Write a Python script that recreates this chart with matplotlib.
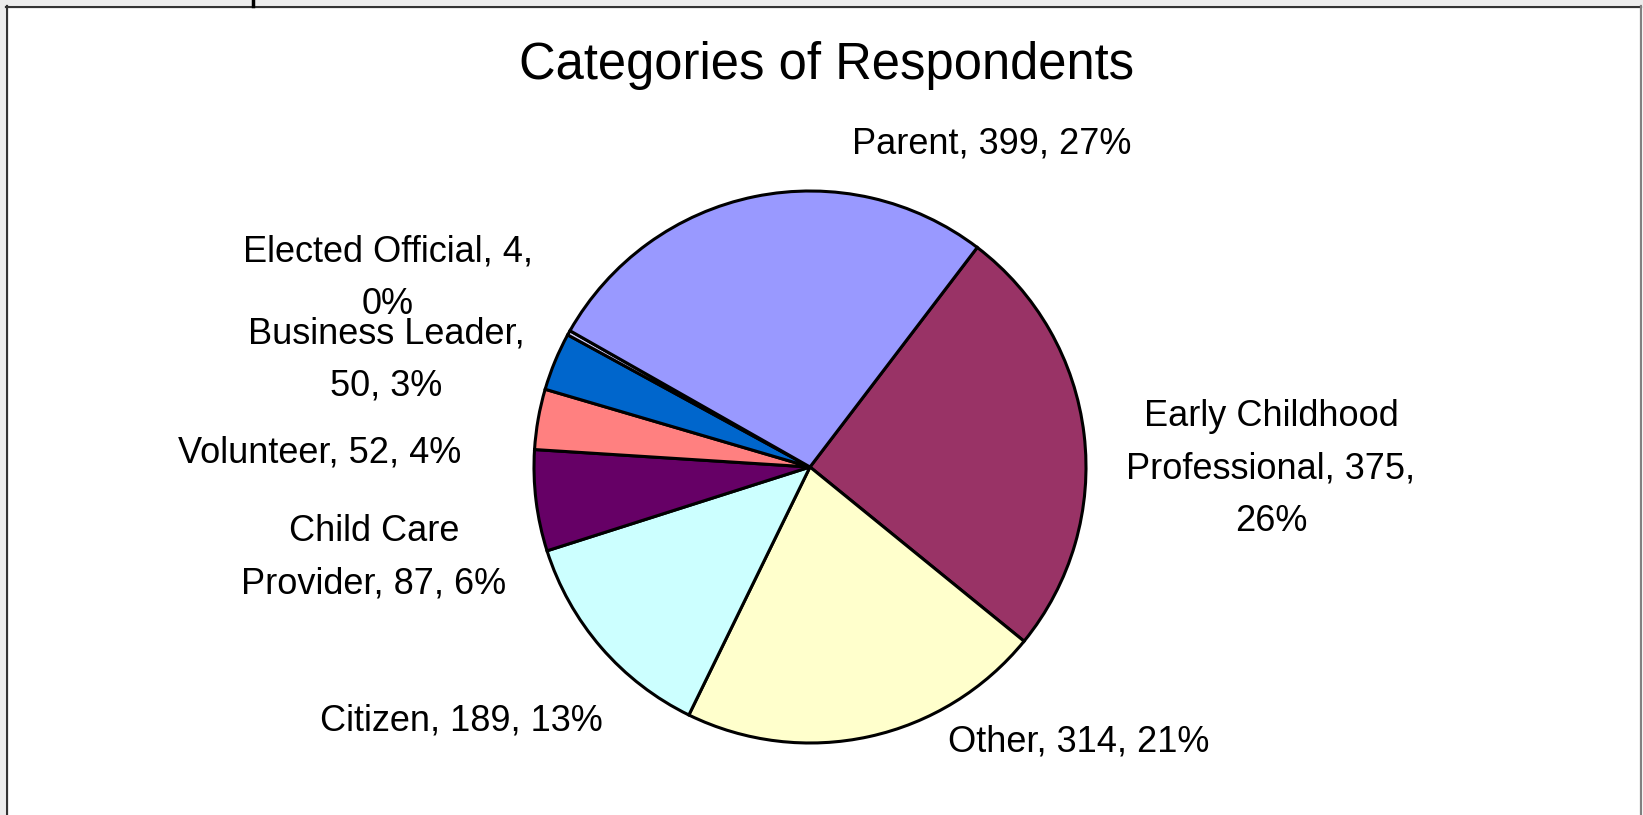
import textwrap
import matplotlib
matplotlib.use("Agg")
import matplotlib.pyplot as plt
from matplotlib.patches import Rectangle

# ---- data ----
categories = ["Early Childhood Professional", "Other", "Citizen", "Child Care Provider",
              "Volunteer", "Business Leader", "Elected Official", "Parent"]
counts = [375, 314, 189, 87, 52, 50, 4, 399]
colors = ["#993366", "#FFFFCC", "#CCFFFF", "#660066",
          "#FF8080", "#0066CC", "#CCCCFF", "#9999FF"]
title = "Categories of Respondents"

# ---- layout (pixel coordinates, origin top-left) ----
W, H = 1643, 815
pie_center = (810, 467)
pie_radius = 276
wrap_widths = [18, 40, 40, 16, 40, 16, 20, 40]
label_pos = [(1271, 469), (1079, 742), (461, 721), (374, 558),
             (320, 453), (386, 360), (388, 278), (992, 144)]

plt.rcParams['font.family'] = ['Liberation Sans', 'DejaVu Sans']

fig = plt.figure(figsize=(W / 100, H / 100), dpi=100)
ax = fig.add_axes([0, 0, 1, 1])

total = sum(counts)
ax.pie(counts, colors=colors, startangle=52.7, counterclock=False,
       center=(pie_center[0], H - pie_center[1]), radius=pie_radius,
       wedgeprops=dict(edgecolor="black", linewidth=2.2))
ax.set_xlim(0, W)
ax.set_ylim(0, H)
ax.set_aspect('auto')
ax.axis('off')

for name, c, w, (x, y) in zip(categories, counts, wrap_widths, label_pos):
    txt = f"{name}, {c}, {round(100 * c / total)}%"
    txt = textwrap.fill(txt, w)
    ax.text(x, H - y, txt, ha='center', va='center', multialignment='center',
            fontsize=26, linespacing=1.66, color='black')

ax.text(827, H - 66, title, ha='center', va='center', fontsize=36.5, color='black')

# surrounding frame like the spreadsheet chart area
ax.add_patch(Rectangle((0, H - 5), W, 5, facecolor='#ececec', edgecolor='none'))
ax.add_patch(Rectangle((0, 0), 5, H, facecolor='#ececec', edgecolor='none'))
ax.plot([6, 1641], [H - 6.5, H - 6.5], color='#333333', lw=1.6)
ax.plot([6.5, 6.5], [0, H - 6], color='#333333', lw=1.6)
ax.plot([1641, 1641], [0, H - 6], color='#808080', lw=1.6)
ax.plot([253, 253], [H, H - 6], color='black', lw=2.5)

fig.savefig("out.png", dpi=100)
